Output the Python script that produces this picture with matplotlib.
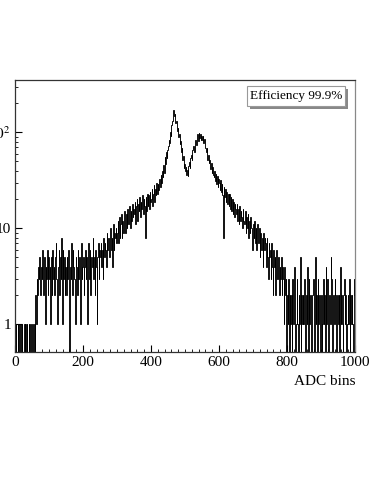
# ADC spectrum, log scale, ROOT-style frame

import numpy as np
import matplotlib.pyplot as plt
from matplotlib.patches import Rectangle
from matplotlib.ticker import FixedLocator, FixedFormatter, MultipleLocator, NullFormatter

plt.rcParams['font.family'] = ['Liberation Serif', 'DejaVu Serif']
plt.rcParams['mathtext.fontset'] = 'stix'

# counts per 2-ADC bin, 25 bins per row (50 ADC units)
c_000 = [1, 0, 1, 1, 0, 1, 0, 1, 1, 0, 1, 0, 0, 1, 0, 1, 0, 1, 0, 0, 1, 0, 1, 0, 0]
c_050 = [1, 0, 0, 1, 0, 2, 1, 3, 2, 4, 3, 5, 2, 4, 3, 6, 2, 3, 5, 1, 4, 3, 6, 2, 5]
c_100 = [3, 4, 1, 5, 2, 6, 3, 4, 2, 5, 7, 3, 1, 4, 6, 2, 5, 3, 8, 1, 6, 3, 5, 2, 4]
c_150 = [2, 5, 3, 6, 1, 0, 4, 3, 7, 2, 6, 4, 3, 1, 5, 4, 2, 6, 3, 5, 4, 1, 7, 3, 4]
c_200 = [5, 2, 4, 6, 3, 5, 1, 4, 7, 3, 6, 2, 5, 4, 8, 3, 5, 2, 6, 4, 1, 5, 7, 3, 6]
c_250 = [5, 7, 4, 6, 3, 8, 5, 7, 6, 4, 9, 6, 8, 5, 7, 10, 6, 8, 4, 11, 6, 9, 8, 10, 7]
c_300 = [9, 12, 7, 13, 8, 11, 14, 8, 12, 9, 13, 15, 9, 14, 10, 16, 11, 13, 17, 10, 15, 12, 18, 13, 16]
c_350 = [14, 19, 11, 17, 20, 12, 18, 15, 21, 13, 19, 16, 22, 14, 20, 17, 8, 21, 15, 23, 17, 22, 16, 24, 19]
c_400 = [20, 26, 17, 23, 28, 19, 26, 22, 30, 23, 29, 25, 33, 27, 36, 30, 40, 34, 46, 38, 55, 47, 62, 54, 66]
c_450 = [72, 84, 78, 100, 92, 120, 132, 152, 172, 148, 154, 124, 130, 104, 112, 90, 96, 76, 82, 62, 68, 52, 57, 43, 47]
c_500 = [40, 44, 36, 41, 35, 45, 49, 43, 54, 58, 52, 66, 72, 63, 78, 84, 74, 90, 95, 82, 98, 88, 96, 84, 92]
c_550 = [84, 92, 78, 86, 72, 68, 62, 68, 52, 58, 48, 51, 42, 48, 38, 44, 36, 34, 40, 31, 37, 29, 35, 27, 33]
c_600 = [30, 25, 32, 24, 29, 22, 8, 27, 21, 26, 19, 24, 18, 23, 17, 23, 16, 21, 15, 20, 14, 19, 13, 18, 16]
c_650 = [14, 18, 12, 16, 11, 17, 12, 15, 13, 10, 16, 12, 11, 15, 9, 13, 10, 14, 8, 12, 9, 13, 10, 8, 6]
c_700 = [11, 8, 12, 7, 10, 6, 11, 8, 7, 10, 5, 9, 6, 8, 4, 9, 6, 8, 7, 4, 8, 5, 3, 7, 5]
c_750 = [6, 3, 7, 4, 2, 6, 4, 5, 2, 6, 3, 3, 5, 2, 4, 3, 5, 2, 4, 3, 1, 4, 2, 3, 0]
c_800 = [2, 1, 3, 0, 2, 1, 2, 0, 3, 1, 2, 4, 0, 1, 3, 1, 0, 2, 1, 5, 0, 2, 1, 2, 1]
c_850 = [3, 1, 0, 2, 1, 4, 0, 3, 1, 2, 1, 0, 2, 3, 1, 0, 5, 1, 2, 0, 3, 1, 2, 1, 0]
c_900 = [2, 0, 1, 3, 1, 2, 0, 4, 1, 3, 1, 0, 2, 1, 5, 3, 0, 1, 2, 1, 3, 2, 0, 1, 2]
c_950 = [1, 2, 0, 4, 1, 2, 1, 0, 2, 3, 1, 2, 0, 1, 2, 1, 3, 0, 2, 1, 2, 1, 0, 3, 2]

rows = [c_000, c_050, c_100, c_150, c_200, c_250, c_300, c_350, c_400, c_450,
        c_500, c_550, c_600, c_650, c_700, c_750, c_800, c_850, c_900, c_950]
counts = np.array(sum(rows, []), dtype=float)
edges = np.linspace(0, 1000, len(counts) + 1)

x_ticks = [0, 200, 400, 600, 800, 1000]
y_ticks = [1, 10, 100]
y_labels = ['1', '10', '$10^{2}$']
legend_text = 'Efficiency 99.9%'

fig = plt.figure(figsize=(3.74, 4.84), dpi=100)
ax = fig.add_axes([15 / 374, 1 - 352 / 484, 340 / 374, 272 / 484])

ax.stairs(counts, edges, baseline=None, color='black', lw=0.65)

ax.set_yscale('log')
ax.set_xlim(0, 1000)
ax.set_ylim(0.515, 351)

ax.xaxis.set_major_locator(FixedLocator(x_ticks))
ax.xaxis.set_minor_locator(MultipleLocator(20))
ax.yaxis.set_major_locator(FixedLocator(y_ticks))
ax.yaxis.set_major_formatter(FixedFormatter(y_labels))
minor_y = [m * d for d in (1, 10, 100) for m in range(2, 10)]
ax.yaxis.set_minor_locator(FixedLocator(minor_y))
ax.yaxis.set_minor_formatter(NullFormatter())

ax.tick_params(which='both', direction='in', top=False, right=False, labelsize=11)
ax.tick_params(which='major', length=5, width=0.8)
ax.tick_params(which='minor', length=2.5, width=0.6)
ax.tick_params(axis='y', pad=3)
ax.tick_params(axis='x', pad=3)

ax.spines['right'].set_color('#888888')
for side in ['left', 'bottom', 'top']:
    ax.spines[side].set_color('#333333')
for s in ax.spines.values():
    s.set_linewidth(0.9)

ax.set_xlabel('ADC bins', fontsize=11, labelpad=2)
ax.xaxis.set_label_coords(1.0, -0.085)
ax.xaxis.label.set_ha('right')

# legend box with shadow
bx0, bx1 = (247 - 15) / 340, (345 - 15) / 340
by1, by0 = 1 - (86 - 80) / 272, 1 - (106 - 80) / 272
dx, dy = 3 / 340, 3 / 272
ax.add_patch(Rectangle((bx0 + dx, by0 - dy), bx1 - bx0, by1 - by0, transform=ax.transAxes,
                       facecolor='#888888', edgecolor='none', zorder=5))
ax.add_patch(Rectangle((bx0, by0), bx1 - bx0, by1 - by0, transform=ax.transAxes,
                       facecolor='white', edgecolor='#999999', lw=0.8, zorder=6))
ax.text((bx0 + bx1) / 2, (by0 + by1) / 2, legend_text, transform=ax.transAxes,
        ha='center', va='center', fontsize=9.5, zorder=7)

fig.savefig('out.png', dpi=100)
